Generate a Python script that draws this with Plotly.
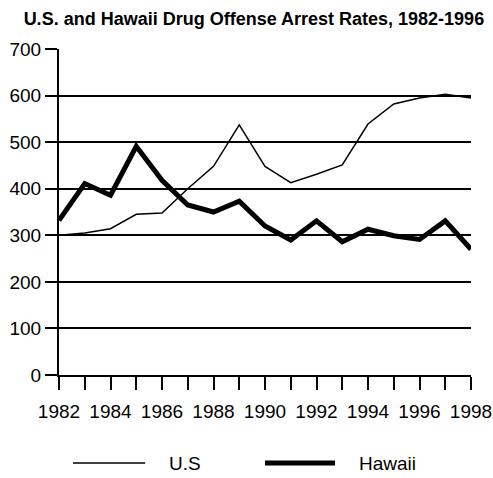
import plotly.graph_objects as go

years = list(range(1982, 1999))
us_rates = [300, 305, 314, 345, 348, 400, 448, 537, 448, 413, 431, 451, 539, 582, 595, 603, 595]
hawaii_rates = [332, 411, 386, 491, 418, 365, 350, 373, 320, 290, 331, 286, 313, 299, 291, 331, 270]
tick_years = list(range(1982, 1999, 2))
y_ticks = list(range(0, 701, 100))
series_names = ["U.S", "Hawaii"]
series_widths = [1.5, 5]

fig = go.Figure()
for name, vals, w in zip(series_names, [us_rates, hawaii_rates], series_widths):
    fig.add_trace(go.Scatter(x=years, y=vals, mode="lines", name=name,
                             line=dict(color="black", width=w), showlegend=False))

# custom legend (long line samples like the reference)
legend_y = -0.27
legend_items = [(0.034, 0.209, 0.262), (0.50, 0.67, 0.723)]
for (x0, x1, xt), name, w in zip(legend_items, series_names, series_widths):
    fig.add_shape(type="line", xref="paper", yref="paper", x0=x0, x1=x1, y0=legend_y, y1=legend_y,
                  line=dict(color="black", width=w))
    fig.add_annotation(xref="paper", yref="paper", x=xt, y=legend_y, text=name, showarrow=False,
                       xanchor="left", yanchor="middle", font=dict(size=19, color="black"))

fig.update_layout(
    width=493, height=478,
    margin=dict(l=59, r=22, t=49, b=103),
    paper_bgcolor="white", plot_bgcolor="white",
    font=dict(family="Liberation Sans, Arial, sans-serif", color="black", size=13),
    title=dict(text="<b>U.S. and Hawaii Drug Offense Arrest Rates, 1982-1996</b>",
               x=0.515, xanchor="center", y=0.96, yanchor="middle",
               font=dict(size=18, color="black")),
    showlegend=False,
)
fig.update_xaxes(range=[1982, 1998], tickvals=tick_years, ticktext=[str(t) for t in tick_years],
                 showgrid=False, showline=True, linecolor="black", linewidth=2, zeroline=False,
                 automargin=False,
                 ticks="outside", ticklen=13, tickwidth=2, tickcolor="black",
                 minor=dict(dtick=1, tick0=1982, ticks="outside", ticklen=13, tickwidth=2, tickcolor="black"),
                 ticklabelstandoff=5,
                 tickfont=dict(size=19))
fig.update_yaxes(range=[0, 700], tickvals=y_ticks, showgrid=True, gridcolor="black", gridwidth=2,
                 showline=True, linecolor="black", linewidth=2, zeroline=False,
                 automargin=False,
                 ticks="outside", ticklen=12, tickwidth=2, tickcolor="black",
                 ticklabelstandoff=0,
                 tickfont=dict(size=19))

fig.write_html("out.html", config={"displayModeBar": False},
               post_script="document.body.style.margin='0px';")
